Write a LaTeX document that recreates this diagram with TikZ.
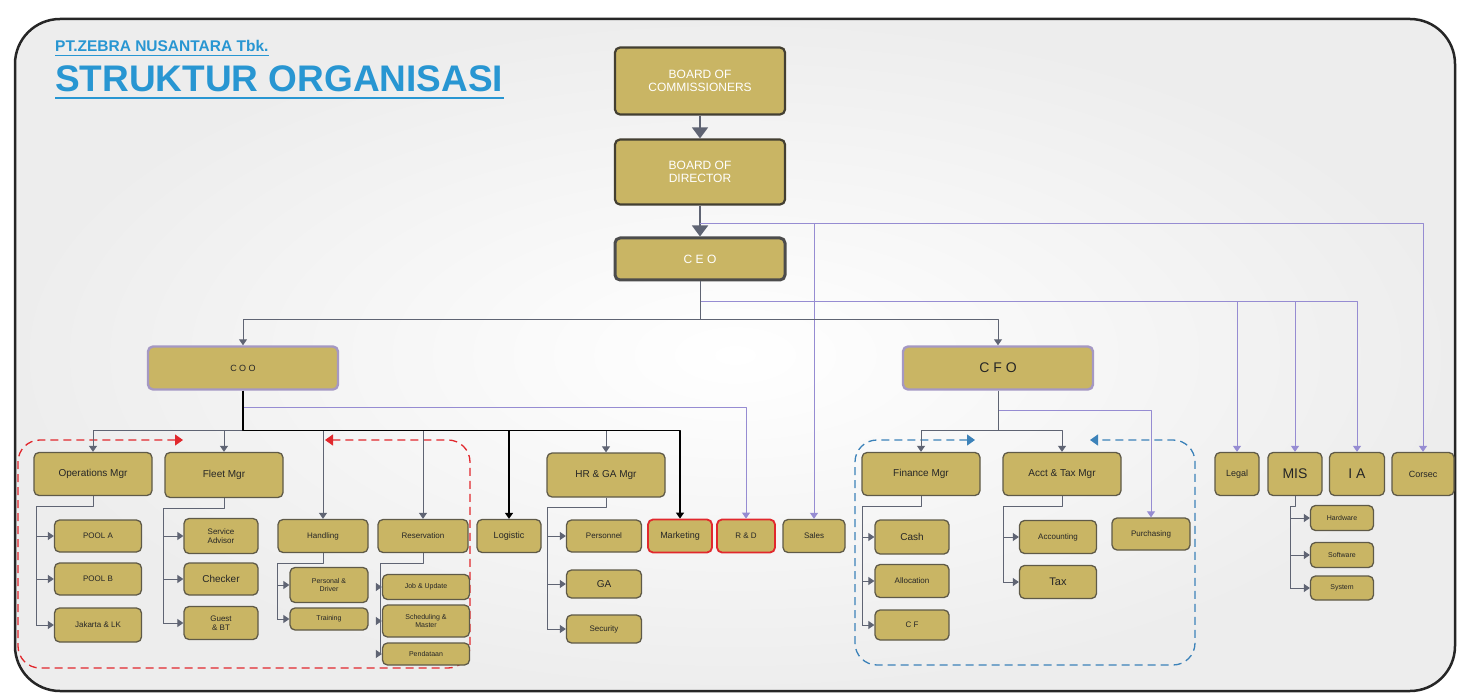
\documentclass[tikz,border=0pt]{standalone}
\usepackage{fontspec}
\setmainfont{Liberation Sans}
\usetikzlibrary{arrows.meta}

\definecolor{boxfill}{RGB}{201,181,100}
\definecolor{boxline}{RGB}{95,90,72}
\definecolor{chiefline}{RGB}{165,152,195}
\definecolor{linegray}{RGB}{95,100,115}
\definecolor{linepurple}{RGB}{150,140,210}
\definecolor{titleblue}{RGB}{40,150,210}
\definecolor{teamred}{RGB}{225,40,45}
\definecolor{teamblue}{RGB}{60,130,185}

\begin{document}
\begin{tikzpicture}[x=1pt,y=-1pt,>={Triangle[width=8pt,length=6pt]},line join=round,
 wh/.style 2 args={minimum width=#1pt,minimum height=#2pt},
 unit/.style={draw=boxline,fill=boxfill,line width=1.3pt,rounded corners=5pt,inner sep=1pt,align=center,text=black!85,font=\fontsize{8}{8.5}\selectfont},
 mgr/.style={unit,font=\fontsize{10}{11}\selectfont},
 board/.style={unit,draw=boxline!70!black,line width=2.2pt,text=white,font=\fontsize{12}{13}\selectfont},
 chief/.style={unit,draw=chiefline,line width=2.4pt},
 hot unit/.style={unit,draw=teamred,line width=1.8pt},
 gline/.style={draw=linegray,line width=1pt},
 pline/.style={draw=linepurple,line width=1pt},
 bline/.style={draw=black,line width=1.5pt},
 big arrow/.style={draw=linegray,line width=1.5pt,-{Triangle[width=16pt,length=11pt]}},
 team box/.style={line width=1.3pt,dash pattern=on 8pt off 5pt,rounded corners=22pt,{Triangle[width=11pt,length=8pt]}-{Triangle[width=11pt,length=8pt]}}]
 \useasboundingbox (0,0) rectangle (1459,700);

 % frame and title
 \shade[inner color=white,outer color=gray!14,rounded corners=45pt] (15,19) rectangle (1455,691);
 \draw[line width=2.5pt,black!85,rounded corners=45pt] (15,19) rectangle (1455,691);
 \node[anchor=base west,inner sep=0pt,text=titleblue,font=\bfseries\fontsize{15.5}{16}\selectfont] (corp) at (55,52) {PT.ZEBRA NUSANTARA Tbk.};
 \node[anchor=base west,inner sep=0pt,text=titleblue,font=\bfseries\fontsize{37}{38}\selectfont] (title) at (55,92) {STRUKTUR ORGANISASI};
 \draw[titleblue,line width=0.8pt] ([yshift=-3pt]corp.base west) -- ([yshift=-3pt]corp.base east);
 \draw[titleblue,line width=1.6pt] ([yshift=-6pt]title.base west) -- ([yshift=-6pt]title.base east);

 % team frames
 \draw[team box,teamred] (183,440) -| (18,668) -| (470,440) -- (325,440);
 \draw[team box,teamblue] (975,440) -| (855,665) -| (1195,440) -- (1090,440);

 % top of the company
 \node[board,wh={170}{67}] (boc) at (700,81) {BOARD OF\\COMMISSIONERS};
 \node[board,wh={170}{65}] (bod) at (700,172) {BOARD OF\\DIRECTOR};
 \node[board,wh={170}{42},line width=3pt,draw=black!70] (ceo) at (700,259) {C E O};
 \node[chief,wh={190}{43},font=\fontsize{9}{10}\selectfont] (coo) at (243,368) {C O O};
 \node[chief,wh={190}{43},font=\fontsize{14}{15}\selectfont] (cfo) at (998,368) {C F O};

 % managers
 \node[mgr,wh={118}{43}] (ops) at (93,474) {Operations Mgr};
 \node[mgr,wh={118}{45}] (fleet) at (224,475) {Fleet Mgr};
 \node[mgr,wh={118}{44}] (hrga) at (606,475) {HR \& GA Mgr};
 \node[mgr,wh={118}{43}] (fin) at (921,474) {Finance Mgr};
 \node[mgr,wh={118}{43}] (acct) at (1062,474) {Acct \& Tax Mgr};
 \node[unit,wh={44}{43},font=\fontsize{9}{10}\selectfont] (legal) at (1237,474) {Legal};
 \node[unit,wh={54}{43},font=\fontsize{14}{15}\selectfont] (mis) at (1295,474) {MIS};
 \node[unit,wh={55}{43},font=\fontsize{14}{15}\selectfont] (ia) at (1357,474) {I A};
 \node[unit,wh={62}{43},font=\fontsize{9}{10}\selectfont] (corsec) at (1423,474) {Corsec};

 % units
 \node[unit,wh={90}{33}] (handling) at (323,536) {Handling};
 \node[unit,wh={90}{33}] (reserv) at (423,536) {Reservation};
 \node[unit,wh={64}{33},font=\fontsize{9}{10}\selectfont] (logistic) at (509,536) {Logistic};
 \node[hot unit,wh={64}{33},font=\fontsize{9}{10}\selectfont] (mkt) at (680,536) {Marketing};
 \node[hot unit,wh={58}{33}] (rnd) at (746,536) {R \& D};
 \node[unit,wh={62}{33}] (sales) at (814,536) {Sales};
 \node[unit,wh={78}{32}] (purch) at (1151,534) {Purchasing};

 \node[unit,wh={87}{32}] (poolA) at (98,536) {POOL A};
 \node[unit,wh={87}{32}] (poolB) at (98,579) {POOL B};
 \node[unit,wh={87}{34}] (jkt) at (98,625) {Jakarta \& LK};
 \node[unit,wh={74}{35}] (sa) at (221,536) {Service\\Advisor};
 \node[unit,wh={74}{32},font=\fontsize{10}{11}\selectfont] (checker) at (221,579) {Checker};
 \node[unit,wh={74}{33}] (guest) at (221,623) {Guest\\\& BT};
 \node[unit,wh={78}{35},font=\fontsize{7}{7.5}\selectfont] (pers) at (329,585) {Personal \&\\Driver};
 \node[unit,wh={78}{22},font=\fontsize{7}{7.5}\selectfont] (training) at (329,619) {Training};
 \node[unit,wh={87}{25},font=\fontsize{7}{7.5}\selectfont] (job) at (426,587) {Job \& Update};
 \node[unit,wh={87}{32},font=\fontsize{7}{7.5}\selectfont] (sched) at (426,621) {Scheduling \&\\Master};
 \node[unit,wh={87}{22},font=\fontsize{7}{7.5}\selectfont] (pendataan) at (426,654) {Pendataan};
 \node[unit,wh={75}{32}] (personnel) at (604,536) {Personnel};
 \node[unit,wh={75}{28},font=\fontsize{10}{11}\selectfont] (ga) at (604,584) {GA};
 \node[unit,wh={75}{28}] (security) at (604,629) {Security};
 \node[unit,wh={74}{34},font=\fontsize{10}{11}\selectfont] (cash) at (912,537) {Cash};
 \node[unit,wh={74}{33}] (alloc) at (912,581) {Allocation};
 \node[unit,wh={74}{30}] (cf) at (912,625) {C F};
 \node[unit,wh={77}{33}] (accounting) at (1058,537) {Accounting};
 \node[unit,wh={77}{33},font=\fontsize{11}{12}\selectfont] (tax) at (1058,582) {Tax};
 \node[unit,wh={63}{25},font=\fontsize{7}{7.5}\selectfont] (hardware) at (1342,518) {Hardware};
 \node[unit,wh={63}{25},font=\fontsize{7}{7.5}\selectfont] (software) at (1342,555) {Software};
 \node[unit,wh={63}{24},font=\fontsize{7}{7.5}\selectfont] (system) at (1342,588) {System};

 % taps on the lines
 \coordinate (dirtap) at ([yshift=-18pt]bod.south);
 \coordinate (ceotap) at ([yshift=-20pt]ceo.south);
 \coordinate (ceobus) at ([yshift=-38pt]ceo.south);
 \coordinate (cootap) at ([yshift=-17pt]coo.south);
 \coordinate (coobus) at ([yshift=-40pt]coo.south);
 \coordinate (cfotap) at ([yshift=-20pt]cfo.south);
 \coordinate (cfobus) at ([yshift=-40pt]cfo.south);

 % connectors
 \draw[big arrow] (boc) -- (bod);
 \draw[big arrow] (bod) -- (ceo);
 \draw[pline,->] (dirtap) -| (corsec.north);
 \draw[pline,->] (dirtap -| sales.north) -- (sales.north);
 \draw[pline,->] (ceotap) -| (ia.north);
 \draw[pline,->] (ceotap -| legal.north) -- (legal.north);
 \draw[pline,->] (ceotap -| mis.north) -- (mis.north);
 \draw[gline,->] (ceo.south) -- (ceobus) -| (coo.north);
 \draw[gline,->] (ceobus) -| (cfo.north);

 \draw[pline,->] (coo.south) -- (cootap) -| (rnd.north);
 \draw[gline,->] (coobus) -| (ops.north);
 \foreach \unit in {fleet,handling,reserv,hrga}
  \draw[gline,->] (coobus -| \unit.north) -- (\unit.north);
 \draw[bline,->] (coo.south) -- (coobus) -| (mkt.north);
 \draw[bline,->] (coobus -| logistic.north) -- (logistic.north);

 \draw[pline,->] (cfo.south) -- (cfotap) -| (purch.north);
 \draw[gline,->] (cfo.south) -- (cfobus) -| (fin.north);
 \draw[gline,->] (cfobus) -| (acct.north);

 \foreach \boss/\sx/\kids/\last in {ops/36/{poolA,poolB,jkt}/jkt,
   fleet/163/{sa,checker,guest}/guest,
   handling/277/{pers,training}/training,
   reserv/380/{job,sched,pendataan}/pendataan,
   hrga/547/{personnel,ga,security}/security,
   fin/862/{cash,alloc,cf}/cf,
   acct/1003/{accounting,tax}/tax,
   mis/1290/{hardware,software,system}/system}{
  \coordinate (spine) at (\sx,0);
  \draw[gline] (\boss.south) -- ++(0,10) -| (spine |- \last.west);
  \foreach \kid in \kids
   \draw[gline,->] (spine |- \kid.west) -- (\kid.west);
 }
\end{tikzpicture}
\end{document}
